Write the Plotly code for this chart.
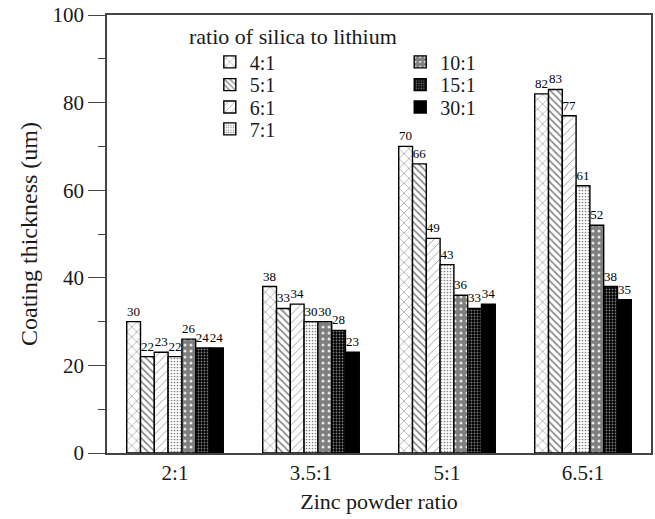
import plotly.graph_objects as go

categories = ["2:1", "3.5:1", "5:1", "6.5:1"]
series_names = ["4:1", "5:1", "6:1", "7:1", "10:1", "15:1", "30:1"]
v_4 = [30, 38, 70, 82]
v_5 = [22, 33, 66, 83]
v_6 = [23, 34, 49, 77]
v_7 = [22, 30, 43, 61]
v_10 = [26, 30, 36, 52]
v_15 = [24, 28, 33, 38]
v_30 = [24, 23, 34, 35]
values = [v_4, v_5, v_6, v_7, v_10, v_15, v_30]

FONT = "Liberation Serif, Times New Roman, serif"
TXT = "#1a1a1a"
patterns = [
    dict(shape="x", fgcolor="black", bgcolor="white", size=7, solidity=0.15),
    dict(shape="\\", fgcolor="black", bgcolor="white", size=5, solidity=0.3),
    dict(shape="/", fgcolor="black", bgcolor="white", size=6, solidity=0.12),
    dict(shape=".", fgcolor="black", bgcolor="white", size=3, solidity=0.25),
    dict(shape=".", fgcolor="black", bgcolor="white", size=6, solidity=0.8),
    dict(shape=".", fgcolor="white", bgcolor="black", size=3, solidity=0.3),
    dict(shape="", fgcolor="black", bgcolor="black"),
]
colors = ["white", "white", "white", "white", "white", "black", "black"]

# legend placement (paper coords): two columns, one legend per entry
leg_x = [0.189, 0.189, 0.189, 0.189, 0.539, 0.539, 0.539]
leg_y = [0.893, 0.841, 0.790, 0.740, 0.893, 0.841, 0.790]

fig = go.Figure()
legends = {}
for i, (name, vals) in enumerate(zip(series_names, values)):
    lname = "legend" if i == 0 else f"legend{i+1}"
    fig.add_trace(go.Bar(
        x=categories, y=vals, name=name,
        marker=dict(color=colors[i], pattern=patterns[i],
                    line=dict(color="black", width=1.4)),
        text=vals, textposition="outside", texttemplate="%{y}",
        textfont=dict(family=FONT, size=13, color="black"),
        cliponaxis=False,
        legend=lname,
    ))
    legends[lname] = dict(x=leg_x[i], y=leg_y[i], xanchor="left", yanchor="middle",
                          font=dict(family=FONT, size=20, color=TXT),
                          bgcolor="rgba(0,0,0,0)", borderwidth=0, itemwidth=30)

fig.update_layout(
    width=655, height=519,
    margin=dict(l=107, r=4, t=15, b=66),
    paper_bgcolor="white", plot_bgcolor="white",
    barmode="group", bargap=0.29, bargroupgap=0,
    font=dict(family=FONT, size=21, color=TXT),
    showlegend=True,
    annotations=[dict(text="ratio of silica to lithium", x=0.147, y=0.950,
                      xref="paper", yref="paper", xanchor="left", yanchor="middle",
                      showarrow=False, font=dict(family=FONT, size=22, color=TXT))],
    **legends,
)
fig.update_xaxes(
    title=dict(text="Zinc powder ratio", font=dict(family=FONT, size=22), standoff=10),
    showline=True, linecolor="#444", linewidth=1.6, mirror=True, automargin=False,
    ticks="", tickfont=dict(family=FONT, size=21), showgrid=False,
)
fig.update_yaxes(
    title=dict(text="Coating thickness (um)", font=dict(family=FONT, size=24), standoff=8),
    range=[0, 100], dtick=20, showline=True, linecolor="#444", linewidth=1.6, mirror=True,
    automargin=False,
    ticks="outside", ticklen=17, tickwidth=1.4, tickcolor="#444",
    minor=dict(dtick=10, ticks="outside", ticklen=7, tickwidth=1.4, tickcolor="#444"),
    tickfont=dict(family=FONT, size=21), showgrid=False, zeroline=False,
)

fig.write_html("out.html", config={"displayModeBar": False},
               post_script="document.body.style.margin='0';")
